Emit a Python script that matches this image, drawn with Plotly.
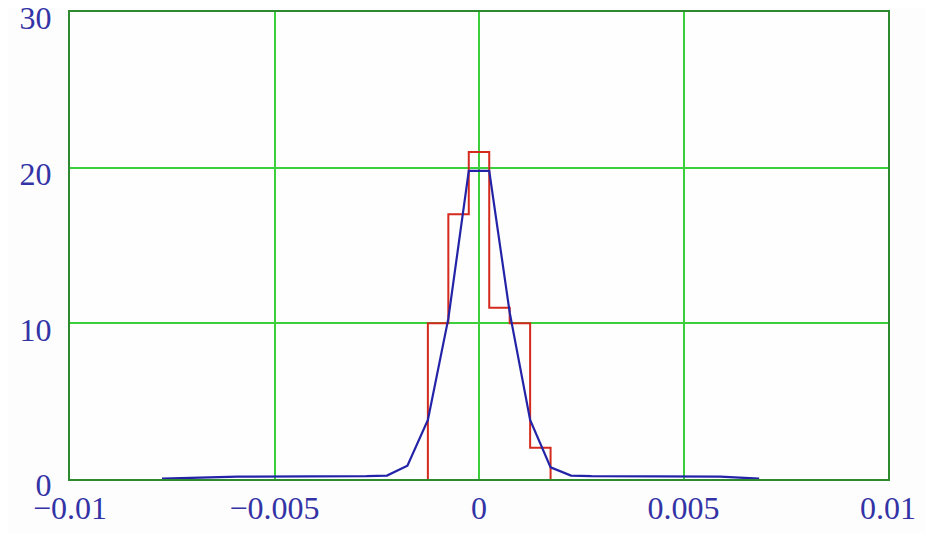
import plotly.graph_objects as go

# Histogram (red step outline)
bin_edges = [-0.00125, -0.00075, -0.00025, 0.00025, 0.00075, 0.00125, 0.00175]
counts = [10, 17, 21, 11, 10, 2]

# Fitted curve (blue)
curve_x = [-0.00775, -0.0059, -0.00275, -0.00225, -0.00175, -0.00125, -0.00075,
           -0.00025, 0.00025, 0.00075, 0.00125, 0.00175, 0.00225, 0.00275, 0.0059, 0.00685]
curve_y = [0.02, 0.15, 0.18, 0.22, 0.85, 3.8, 10.3,
           19.8, 19.8, 10.7, 3.8, 0.75, 0.22, 0.18, 0.15, 0.02]

x_tickvals = [-0.01, -0.005, 0, 0.005, 0.01]
x_ticktext = ["\u22120.01", "\u22120.005", "0", "0.005", "0.01"]
y_tickvals = [0, 10, 20, 30]

# build step outline from edges/counts
step_x = [bin_edges[0]] + bin_edges
step_y = [0] + counts + [0]

fig = go.Figure()
fig.add_trace(go.Scatter(x=step_x, y=step_y, mode="lines", line_shape="hv",
                         line=dict(color="#d42a1e", width=2), showlegend=False,
                         hoverinfo="skip"))
fig.add_trace(go.Scatter(x=curve_x, y=curve_y, mode="lines",
                         line=dict(color="#2323a8", width=2.2), showlegend=False,
                         hoverinfo="skip"))

grid = "#3ccf3c"
border = "#2e8a2e"
tickfont = dict(family="Liberation Serif", size=32, color="#3333a6")

fig.update_layout(
    width=933, height=533, autosize=False,
    margin=dict(l=62, r=53, t=4, b=62),
    paper_bgcolor="#fdfdfd", plot_bgcolor="#fefefe",
    xaxis=dict(range=[-0.01, 0.01], tickvals=x_tickvals, ticktext=x_ticktext,
               showgrid=True, gridcolor=grid, gridwidth=1.5, zeroline=False,
               showline=True, linecolor=border, linewidth=2, mirror=True,
               ticks="", tickfont=tickfont, ticklabelstandoff=0, automargin=False,
               ticklabeloverflow="allow"),
    yaxis=dict(range=[0, 30], tickvals=y_tickvals, ticktext=[str(v) for v in y_tickvals],
               showgrid=True, gridcolor=grid, gridwidth=1.5, zeroline=False,
               showline=True, linecolor=border, linewidth=2, mirror=True,
               ticks="", tickfont=tickfont, ticklabelstandoff=10, ticklabelshift=6,
               automargin=False, ticklabeloverflow="allow"),
)

fig.write_html("out.html")
